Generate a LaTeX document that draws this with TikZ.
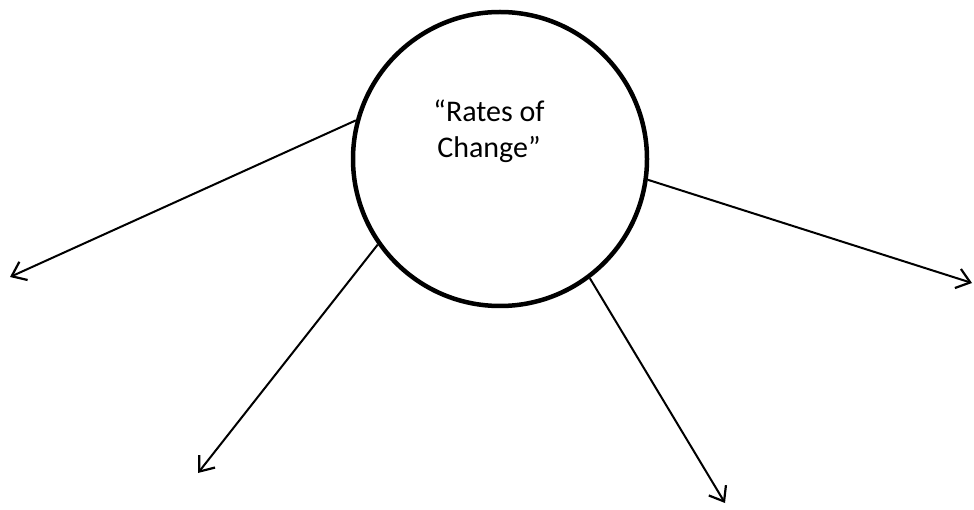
\documentclass[tikz,border=0pt]{standalone}
\usepackage{fontspec}
\setmainfont{Carlito}
\usepackage{tikz}
\usetikzlibrary{arrows.meta}

\begin{document}
\begin{tikzpicture}[
    x=1pt, y=-1pt,
    bubble/.style={draw, circle, line width=4.5pt, minimum size=294pt, inner sep=0pt},
    arr/.style={draw, line width=2pt, -{Straight Barb[length=13pt, width=20pt, line width=2.2pt]}},
    lbl/.style={font=\fontsize{30}{36}\selectfont, align=center}
]
\useasboundingbox (0,0) rectangle (974,510);
\node[bubble] (roc) at (500,159) {};
\node[lbl] (title) at (489,131) {“Rates of\\Change”};

\coordinate (tipA) at (10,277);
\coordinate (tipB) at (198,473);
\coordinate (tipC) at (725,503);
\coordinate (tipD) at (972,283);

\draw[arr] (roc.165) -- (tipA);
\draw[arr] (roc.215) -- (tipB);
\draw[arr] (roc.307) -- (tipC);
\draw[arr] (roc.352) -- (tipD);
\end{tikzpicture}
\end{document}
